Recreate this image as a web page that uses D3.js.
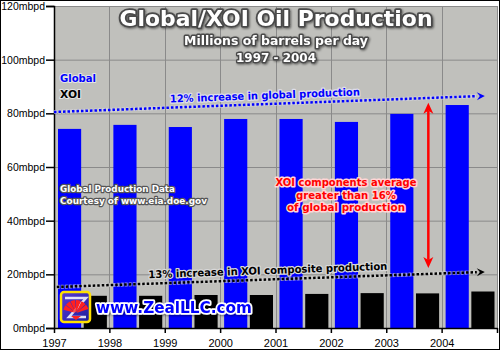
<!DOCTYPE html>
<html>
<head>
<meta charset="utf-8">
<script src="https://cdn.jsdelivr.net/npm/d3@7"></script>
<style>
  html, body { margin: 0; padding: 0; background: #fff; }
  svg { display: block; }
</style>
</head>
<body>
<svg id="chart" width="500" height="350"></svg>
<script>
// Oil production, millions of barrels per day
const years = [1997, 1998, 1999, 2000, 2001, 2002, 2003, 2004];
const globalProd = [74.2, 75.7, 74.9, 77.9, 77.9, 76.8, 79.8, 83.1];
const xoiProd = [12.0, 12.0, 12.3, 12.3, 12.7, 13.0, 12.9, 13.6];
const yTicks = [0, 20, 40, 60, 80, 100, 120];
const seriesNames = ["Global", "XOI"];
const seriesColors = ["#0000ff", "#000000"];

// Trend arrows, in [year position, mbpd]
const globalTrend = [[1997.0, 80.5], [2004.78, 86.5]];
const xoiTrend = [[1997.05, 15.3], [2004.78, 20.9]];
// Share arrow, spanning the XOI level up to global level
const shareArrow = { x: 2003.76, y0: 22.4, y1: 83.9 };

const svg = d3.select("#chart");
const W = 500, H = 350;
const plot = { left: 54, right: 497, top: 6, bottom: 328 };

const yearPos = d3.scaleLinear().domain([1997, 2005]).range([plot.left, plot.right]);
const x0 = d3.scaleBand().domain(years).range([plot.left, plot.right]).padding(0);
const x1 = d3.scaleBand().domain(seriesNames).range([4, x0.bandwidth() - 2.5]).paddingInner(0.1);
const y = d3.scaleLinear().domain([0, 120]).range([plot.bottom, plot.top]);

const defs = svg.append("defs");
const shadow = defs.append("filter").attr("id", "shadow")
  .attr("x", "-10%").attr("y", "-30%").attr("width", "120%").attr("height", "160%");
shadow.append("feDropShadow").attr("dx", 1).attr("dy", 1).attr("stdDeviation", 1)
  .attr("flood-color", "#000").attr("flood-opacity", 0.5);

const logoGrad = defs.append("linearGradient").attr("id", "logoGrad")
  .attr("x1", 0).attr("y1", 0).attr("x2", 1).attr("y2", 1);
logoGrad.append("stop").attr("offset", "0%").attr("stop-color", "#5a3cd8");
logoGrad.append("stop").attr("offset", "100%").attr("stop-color", "#1c1c9a");

// Plot background
svg.append("rect")
  .attr("x", plot.left).attr("y", plot.top)
  .attr("width", plot.right - plot.left).attr("height", plot.bottom - plot.top)
  .attr("fill", "#c0c0bc");

// Gridlines
svg.append("g").selectAll("line").data(yTicks.filter(d => d > 0)).join("line")
  .attr("x1", plot.left).attr("x2", plot.right)
  .attr("y1", d => y(d) + 0.5).attr("y2", d => y(d) + 0.5)
  .attr("stroke", "#8a8a8a").attr("stroke-width", 1);
svg.append("g").selectAll("line").data(years.slice(1).concat([2005])).join("line")
  .attr("x1", d => Math.round(yearPos(d)) + 0.5).attr("x2", d => Math.round(yearPos(d)) + 0.5)
  .attr("y1", plot.top).attr("y2", plot.bottom)
  .attr("stroke", "#8a8a8a").attr("stroke-width", 1);

// Bars
const rows = years.map((yr, i) => ({ year: yr, values: [globalProd[i], xoiProd[i]] }));
svg.append("g").selectAll("g").data(rows).join("g")
  .attr("transform", d => `translate(${x0(d.year)},0)`)
  .selectAll("rect").data(d => d.values.map((v, j) => ({ key: seriesNames[j], v, j }))).join("rect")
  .attr("x", d => x1(d.key)).attr("width", x1.bandwidth())
  .attr("y", d => y(d.v)).attr("height", d => y(0) - y(d.v))
  .attr("fill", d => seriesColors[d.j]);

// Axes
const axisFont = "'Liberation Sans', Arial, sans-serif";
const yAxis = d3.axisLeft(y).tickValues(yTicks).tickFormat(d => d + "mbpd").tickSize(8).tickPadding(1);
svg.append("g").attr("transform", `translate(${plot.left},0)`).call(yAxis)
  .call(g => g.selectAll("text").attr("font-family", axisFont)
    .attr("font-size", 10.5).attr("fill", "#000"))
  .call(g => g.selectAll("line, path").attr("stroke", "#000").attr("stroke-width", 1.5));

const xAxis = d3.axisBottom(yearPos).tickValues(years.concat([2005]))
  .tickFormat(d => d === 2005 ? "" : String(d)).tickSize(5).tickPadding(6).tickSizeOuter(0);
svg.append("g").attr("transform", `translate(0,${plot.bottom})`).call(xAxis)
  .call(g => g.selectAll("text").attr("font-family", axisFont)
    .attr("font-size", 11).attr("fill", "#000"))
  .call(g => g.selectAll("line, path").attr("stroke", "#000").attr("stroke-width", 1.5));

// Outer frame
svg.append("rect").attr("x", 0.5).attr("y", 0.5).attr("width", W - 1).attr("height", H - 1)
  .attr("fill", "none").attr("stroke", "#000").attr("stroke-width", 1);

const boldFont = "'DejaVu Sans', Verdana, sans-serif";

// Bold label with an outline behind the fill
function outlined(sel, opts) {
  return sel.append("text")
    .attr("x", opts.x).attr("y", opts.y)
    .attr("text-anchor", opts.anchor || "middle")
    .attr("font-family", boldFont).attr("font-weight", "bold")
    .attr("font-size", opts.size)
    .attr("fill", opts.fill).attr("stroke", opts.stroke).attr("stroke-width", opts.sw)
    .attr("stroke-linejoin", "round").attr("paint-order", "stroke")
    .attr("textLength", opts.len || null)
    .attr("lengthAdjust", opts.len ? "spacingAndGlyphs" : null)
    .attr("transform", opts.rotate ? `rotate(${opts.rotate},${opts.x},${opts.y})` : null)
    .attr("filter", opts.filter || null)
    .text(opts.text);
}

// Title block
outlined(svg, { x: 276, y: 26, size: 20.5, fill: "#fff", stroke: "#4a4a4a", sw: 3.5, len: 313,
  filter: "url(#shadow)", text: "Global/XOI Oil Production" });
outlined(svg, { x: 276, y: 45, size: 12.5, fill: "#fff", stroke: "#4a4a4a", sw: 3, len: 184,
  filter: "url(#shadow)", text: "Millions of barrels per day" });
outlined(svg, { x: 276, y: 61.5, size: 12.5, fill: "#fff", stroke: "#4a4a4a", sw: 3, len: 80,
  filter: "url(#shadow)", text: "1997 - 2004" });

// Legend labels
seriesNames.forEach((name, i) => {
  outlined(svg, { x: 60, y: 82 + i * 15.5, anchor: "start", size: 10, fill: seriesColors[i],
    stroke: "#e4e4e4", sw: 2, len: i === 0 ? 36 : 21, text: name });
});

// Source note
outlined(svg, { x: 60, y: 192, anchor: "start", size: 9.5, fill: "#fff", stroke: "#555", sw: 2.5,
  len: 115, text: "Global Production Data" });
outlined(svg, { x: 60, y: 203.5, anchor: "start", size: 9.5, fill: "#fff", stroke: "#555", sw: 2.5,
  len: 147, text: "Courtesy of www.eia.doe.gov" });

// Trend arrows
function trendArrow(pts, color, halo) {
  const p0 = [yearPos(pts[0][0]), y(pts[0][1])];
  const p1 = [yearPos(pts[1][0]), y(pts[1][1])];
  const ang = Math.atan2(p1[1] - p0[1], p1[0] - p0[0]);
  const headLen = 8;
  const base = [p1[0] - headLen * Math.cos(ang), p1[1] - headLen * Math.sin(ang)];
  const g = svg.append("g");
  g.append("line").attr("x1", p0[0]).attr("y1", p0[1]).attr("x2", base[0]).attr("y2", base[1])
    .attr("stroke", halo).attr("stroke-width", 4).attr("stroke-dasharray", "3,1").attr("opacity", 0.7);
  g.append("line").attr("x1", p0[0]).attr("y1", p0[1]).attr("x2", base[0]).attr("y2", base[1])
    .attr("stroke", color).attr("stroke-width", 2.5).attr("stroke-dasharray", "2.5,2");
  const w = 4;
  const nx = -Math.sin(ang), ny = Math.cos(ang);
  g.append("path")
    .attr("d", `M${p1[0]},${p1[1]} L${p1[0] - headLen * Math.cos(ang) + nx * w},${p1[1] - headLen * Math.sin(ang) + ny * w} L${p1[0] - 5 * Math.cos(ang)},${p1[1] - 5 * Math.sin(ang)} L${p1[0] - headLen * Math.cos(ang) - nx * w},${p1[1] - headLen * Math.sin(ang) - ny * w} Z`)
    .attr("fill", color);
  return { p0, p1, angle: ang * 180 / Math.PI };
}

const gt = trendArrow(globalTrend, "#0000ff", "#d8d8e6");
outlined(svg, { x: 265, y: 99, size: 10.5, fill: "#0000ff", stroke: "#dedee8", sw: 2.5,
  len: 190, rotate: gt.angle, text: "12% increase in global production" });

const xt = trendArrow(xoiTrend, "#000", "#d4d4d4");
outlined(svg, { x: 268, y: 274, size: 10.5, fill: "#000", stroke: "#d8d8d8", sw: 2.5,
  len: 239, rotate: xt.angle, text: "13% increase in XOI composite production" });

// Red double-headed arrow
const ax = yearPos(shareArrow.x);
const ayTop = y(shareArrow.y1), ayBot = y(shareArrow.y0);
const red = svg.append("g");
red.append("line").attr("x1", ax).attr("x2", ax).attr("y1", ayTop + 8).attr("y2", ayBot - 8)
  .attr("stroke", "#ff0000").attr("stroke-width", 2.5);
red.append("path").attr("d", `M${ax},${ayTop} L${ax + 5},${ayTop + 11} L${ax},${ayTop + 8} L${ax - 5},${ayTop + 11} Z`)
  .attr("fill", "#ff0000");
red.append("path").attr("d", `M${ax},${ayBot} L${ax + 5},${ayBot - 11} L${ax},${ayBot - 8} L${ax - 5},${ayBot - 11} Z`)
  .attr("fill", "#ff0000");

// Share note
const shareLines = ["XOI components average", "greater than 16%", "of global production"];
const shareLens = [141, 100, 118];
shareLines.forEach((t, i) => {
  outlined(svg, { x: 346, y: 186 + i * 12.5, size: 11, fill: "#ff0000", stroke: "#ffd6d6", sw: 3,
    len: shareLens[i], text: t });
});

// Logo badge
const logo = svg.append("g").attr("transform", "translate(60,291)");
logo.append("rect").attr("x", 1).attr("y", 1).attr("width", 29).attr("height", 30).attr("rx", 3)
  .attr("fill", "url(#logoGrad)").attr("stroke", "#ffe000").attr("stroke-width", 2.5);
logo.append("path").attr("d", "M5,7 L26,7 L9,26 L26,26").attr("fill", "none")
  .attr("stroke", "#ffffff").attr("stroke-width", 2.5).attr("opacity", 0.85);
const fan = d3.arc();
const fanG = logo.append("g").attr("transform", "translate(16,22)");
d3.range(6).forEach(i => {
  const a0 = -Math.PI * 0.42 + i * (Math.PI * 0.84 / 6);
  fanG.append("path")
    .attr("d", fan({ innerRadius: 1, outerRadius: 13, startAngle: a0, endAngle: a0 + Math.PI * 0.84 / 6 - 0.06 }))
    .attr("fill", "#ff2020");
});
logo.append("path").attr("d", "M11,25 L21,25 L16,29 Z").attr("fill", "#ff2020");

outlined(svg, { x: 96, y: 313, anchor: "start", size: 16, fill: "#0000ff", stroke: "#ffffff", sw: 3.5,
  len: 156, filter: "url(#shadow)", text: "www.ZealLLC.com" });
</script>
</body>
</html>
